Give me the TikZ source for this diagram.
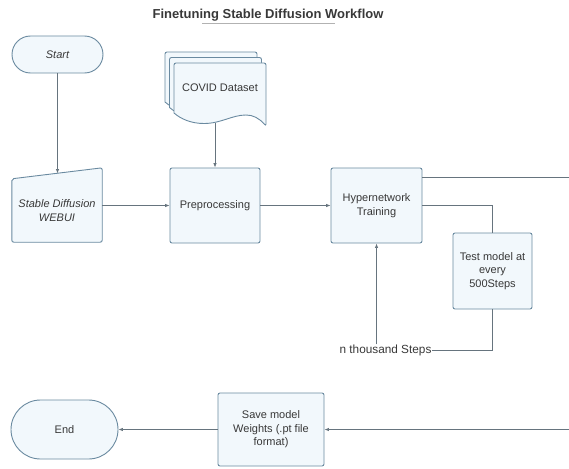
\documentclass[tikz,border=0pt]{standalone}
\usepackage{fontspec}
\setmainfont{Liberation Sans}
\usetikzlibrary{arrows.meta,calc}
\definecolor{bordc}{HTML}{6A8AA0}
\definecolor{fillc}{HTML}{F2F8FC}
\definecolor{linec}{HTML}{66747E}
\definecolor{txtc}{HTML}{383838}
\tikzset{
  box/.style={draw=bordc, fill=fillc, line width=0.9pt, rounded corners=2pt, inner sep=0pt, align=center, text=txtc, font=\fontsize{11}{13.5}\selectfont},
  stadium/.style={box, rounded corners=#1},
  ghost/.style={inner sep=0pt, align=center, text=txtc, font=\fontsize{11}{13.5}\selectfont},
  conn/.style={draw=linec, line width=0.7pt},
  arr/.style={conn, -{Latex[length=4.5pt,width=3.5pt]}},
  docshape/.style={draw=bordc, fill=fillc, line width=0.9pt}
}
\begin{document}
\begin{tikzpicture}[x=1pt,y=-1pt]
\useasboundingbox (0,0) rectangle (569,468);
% title
\node[font=\bfseries\fontsize{13}{15}\selectfont, text=txtc] (title) at (268,15) {Finetuning Stable Diffusion Workflow};
\draw[draw=gray!60, line width=0.8pt] (202,23.5) -- (335,23.5);
% start
\node[stadium=18.5pt, minimum width=91, minimum height=37, font=\itshape\fontsize{11}{13.5}\selectfont] (start) at (57.5,54.5) {Start};
% webui (manual input)
\node[ghost, minimum width=90, minimum height=74] (webui) at (57,205) {};
\draw[box] (webui.south west) -- (webui.south east) -- (webui.north east) -- ($(webui.north west)+(0,11)$) -- cycle;
\node[ghost, font=\itshape\fontsize{11}{13.5}\selectfont] (webuitxt) at (57,210.5) {Stable Diffusion\\WEBUI};
\coordinate (wtop) at (57.5,173.5);
% covid multi-document
\foreach \dx/\dy in {-9/-11,-4.5/-5.5,0/0}{
  \begin{scope}[shift={(\dx,\dy)}]
  \draw[docshape, rounded corners=2pt] (174,113) -- (174,63) -- (266,63) -- (266,126)
   [rounded corners=0pt] .. controls (259,118) and (253,115) .. (246,115)
   .. controls (232,115) and (221,123.5) .. (204,123.5)
   .. controls (191,123.5) and (181,119) .. (174,113) -- cycle;
  \end{scope}
}
\node[ghost] (covid) at (220,88) {COVID Dataset};
\coordinate (covidb) at (215,123);
% boxes
\node[box, minimum width=90, minimum height=75] (prep) at (215,205.5) {Preprocessing};
\node[box, minimum width=91, minimum height=75] (hyp) at (376.5,205.5) {Hypernetwork\\Training};
\node[box, minimum width=79, minimum height=76] (test) at (492.5,271) {Test model at\\every\\500Steps};
\node[ghost, font=\fontsize{11.8}{14}\selectfont] (ntk) at (385.5,350) {n thousand Steps};
\node[box, minimum width=106, minimum height=73] (save) at (271,429.5) {Save model\\Weights (.pt file\\format)};
\node[stadium=29.5pt, minimum width=107, minimum height=59] (end) at (64.5,429.5) {End};
\coordinate (rt) at (569,177);
\coordinate (rb) at (569,429.5);
% connectors
\draw[arr] (start.south) -- (wtop);
\draw[arr] (covidb) -- (prep.north);
\draw[arr] (webui.east |- prep.west) -- (prep.west);
\draw[arr] (prep.east) -- (hyp.west);
\draw[conn] (hyp.east |- rt) -- (rt);
\draw[conn] (hyp.east) -| (test.north);
\draw[conn] (test.south) |- (ntk.east);
\draw[arr] (hyp.south |- ntk.north) -- (hyp.south);
\draw[arr] (rb) -- (save.east);
\draw[arr] (save.west) -- (end.east);
\end{tikzpicture}
\end{document}
